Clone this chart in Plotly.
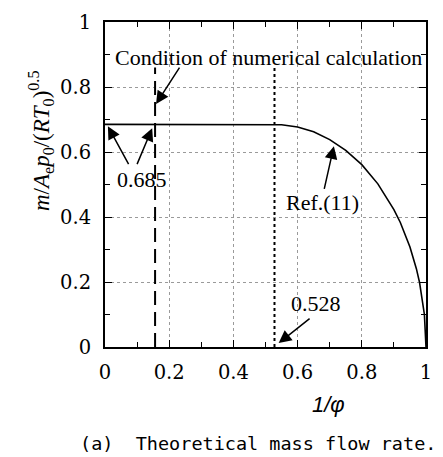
import plotly.graph_objects as go

# Data
inv_phi = [0.0, 0.528, 0.55, 0.6, 0.65, 0.7, 0.75, 0.8, 0.85, 0.9, 0.92, 0.95, 0.97, 0.98, 0.99, 0.995, 1.0]
mass_flow = [0.685, 0.685, 0.684, 0.677, 0.662, 0.638, 0.605, 0.561, 0.502, 0.423, 0.383, 0.308, 0.241, 0.198, 0.141, 0.100, 0.0]

cond_x = [0.156, 0.156]
cond_y = [0.0, 0.86]
crit_x = [0.528, 0.528]
crit_y = [0.0, 0.86]

x_ticks = [0, 0.2, 0.4, 0.6, 0.8, 1]
x_labels = ["0", "0.2", "0.4", "0.6", "0.8", "1"]
y_ticks = [0, 0.2, 0.4, 0.6, 0.8, 1]
y_labels = ["0", "0.2", "0.4", "0.6", "0.8", "1"]

SERIF = "Liberation Serif"

fig = go.Figure()
fig.add_trace(go.Scatter(x=cond_x, y=cond_y, mode="lines",
                         line=dict(color="black", width=2, dash="14px,7px"), showlegend=False))
fig.add_trace(go.Scatter(x=crit_x, y=crit_y, mode="lines",
                         line=dict(color="black", width=2, dash="3px,3px"), showlegend=False))
fig.add_trace(go.Scatter(x=inv_phi, y=mass_flow, mode="lines",
                         line=dict(color="black", width=1.6), showlegend=False))

axis_common = dict(
    range=[0, 1], showline=True, linecolor="black", linewidth=2, mirror="ticks",
    ticks="inside", ticklen=7, tickwidth=1, tickcolor="black",
    showgrid=True, gridcolor="#9a9a9a", griddash="dot", gridwidth=1,
    zeroline=False,
    tickfont=dict(family="DejaVu Serif", size=19.5, color="black"),
    minor=dict(dtick=0.1, ticks="inside", ticklen=5, tickcolor="black", showgrid=False),
)

fig.update_xaxes(**axis_common, tickvals=x_ticks, ticktext=x_labels, ticklabelstandoff=7)
fig.update_yaxes(**axis_common, tickvals=y_ticks, ticktext=y_labels, ticklabelstandoff=8)

ann_font = dict(family=SERIF, size=22, color="black")
arrow = dict(showarrow=True, arrowhead=2, arrowsize=1.7, arrowwidth=1.5, arrowcolor="black",
             axref="x", ayref="y", xref="x", yref="y")
center = dict(xanchor="center", yanchor="middle", showarrow=False)

annotations = [
    dict(x=0.508, y=0.891, text="Condition of numerical calculation", font=ann_font,
         xref="x", yref="y", **center),
    dict(x=0.159, y=0.748, ax=0.235, ay=0.864, text="", **arrow),
    dict(x=0.116, y=0.515, text="0.685", font=ann_font, xref="x", yref="y", **center),
    dict(x=0.009, y=0.679, ax=0.076, ay=0.558, text="", **arrow),
    dict(x=0.147, y=0.673, ax=0.098, ay=0.558, text="", **arrow),
    dict(x=0.679, y=0.445, text="Ref.(11)", font=ann_font, xref="x", yref="y", **center),
    dict(x=0.713, y=0.618, ax=0.682, ay=0.482, text="", **arrow),
    dict(x=0.657, y=0.133, text="0.528", font=ann_font, xref="x", yref="y", **center),
    dict(x=0.541, y=0.012, ax=0.642, ay=0.091, text="", **arrow),
    # axis titles
    dict(x=0.697, y=-0.176, xref="paper", yref="paper", text="<i>1/φ</i>",
         font=dict(family="Liberation Sans", size=22, color="black"), **center),
    dict(x=-0.2, y=0.636, xref="paper", yref="paper", textangle=-90,
         text="<i>m</i>/<i>A</i><sub>e</sub><i>p</i><sub>0</sub>/(<i>RT</i><sub>0</sub>)<sup>0.5</sup>",
         font=dict(family=SERIF, size=23, color="black"), **center),
    # caption
    dict(x=0.477, y=-0.298, xref="paper", yref="paper",
         text="(a)  Theoretical mass flow rate.",
         font=dict(family="DejaVu Sans Mono", size=18.5, color="black"), **center),
]

fig.update_layout(
    width=443, height=457,
    margin=dict(l=105, r=11, t=17, b=110),
    plot_bgcolor="white", paper_bgcolor="white",
    annotations=annotations,
)

fig.write_html("out.html")
